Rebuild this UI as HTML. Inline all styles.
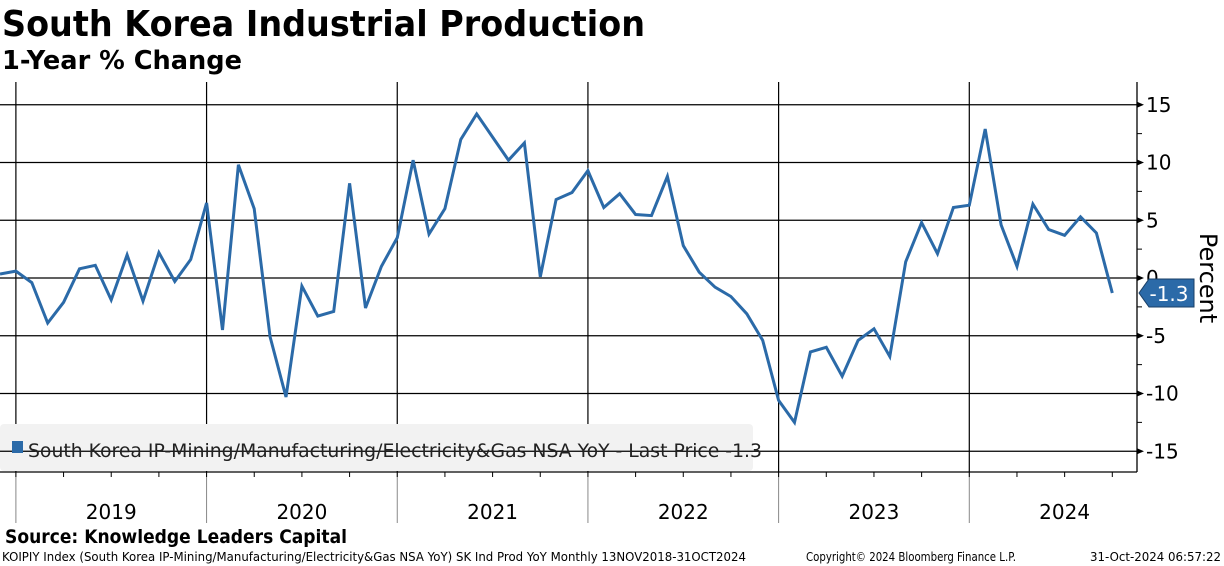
<!DOCTYPE html>
<html><head><meta charset="utf-8"><style>
html,body{margin:0;padding:0;background:#fff;}
svg{display:block;font-family:"DejaVu Sans","Liberation Sans",sans-serif;}
</style></head><body>
<svg id="chart" width="1224" height="566" viewBox="0 0 1224 566" xmlns="http://www.w3.org/2000/svg">
<text x="2" y="36" font-size="36" font-weight="bold" textLength="643" lengthAdjust="spacingAndGlyphs">South Korea Industrial Production</text>
<text x="2" y="69" font-size="26" font-weight="bold" textLength="240" lengthAdjust="spacingAndGlyphs">1-Year % Change</text>
<g id="grid"></g>
<rect x="0" y="424" width="753" height="47" rx="4" fill="#f2f2f2"/>
<g id="grid2"></g>
<g id="series"></g>
<rect x="12" y="441" width="11" height="12" fill="#2b6aa8"/>
<text x="28" y="457" font-size="19" fill="#222" textLength="734" lengthAdjust="spacingAndGlyphs">South Korea IP-Mining/Manufacturing/Electricity&amp;Gas NSA YoY - Last Price -1.3</text>
<g id="axes"></g>
<text transform="translate(1200,278) rotate(90)" text-anchor="middle" font-size="24">Percent</text>
<text x="5" y="543" font-size="19" font-weight="bold" textLength="342" lengthAdjust="spacingAndGlyphs">Source: Knowledge Leaders Capital</text>
<text x="2" y="561" font-size="12" textLength="744" lengthAdjust="spacingAndGlyphs">KOIPIY Index (South Korea IP-Mining/Manufacturing/Electricity&amp;Gas NSA YoY) SK Ind Prod YoY  Monthly 13NOV2018-31OCT2024</text>
<text x="806" y="561" font-size="12" textLength="210" lengthAdjust="spacingAndGlyphs">Copyright© 2024 Bloomberg Finance L.P.</text>
<text x="1090" y="561" font-size="12" textLength="131" lengthAdjust="spacingAndGlyphs">31-Oct-2024 06:57:22</text>
</svg>
<script>
const years = ["2019","2020","2021","2022","2023","2024"];
const yTicks = [15,10,5,0,-5,-10,-15];
const values = [0.35,
0.6,-0.4,-3.9,-2.1,0.8,1.1,-1.9,2.0,-2.0,2.2,-0.3,1.6,
6.5,-4.5,9.8,6.0,-5.1,-10.3,-0.7,-3.3,-2.9,8.2,-2.6,1.0,
3.5,10.2,3.8,6.0,12.0,14.2,12.2,10.2,11.7,0.1,6.8,7.4,
9.3,6.1,7.3,5.5,5.4,8.8,2.8,0.5,-0.8,-1.6,-3.1,-5.4,
-10.6,-12.5,-6.4,-6.0,-8.5,-5.4,-4.4,-6.8,1.4,4.8,2.1,6.1,
6.3,12.9,4.6,1.0,6.4,4.2,3.7,5.3,3.9,-1.3];
const lastValue = -1.3;

const NS="http://www.w3.org/2000/svg";
const x0=0, dx=15.89, axisX=1137, plotTop=82, plotBot=472;
function xs(i){return x0+i*dx;}         // i = months since Dec 2018
function ys(v){return 278-v*11.55;}
function mk(tag,attrs,parent){const e=document.createElementNS(NS,tag);for(const k in attrs)e.setAttribute(k,attrs[k]);parent.appendChild(e);return e;}
const grid=document.getElementById('grid'), grid2=document.getElementById('grid2'), axes=document.getElementById('axes'), series=document.getElementById('series');

yTicks.forEach(v=>{
  const l=mk('line',{x1:0,x2:axisX,y1:ys(v),y2:ys(v),stroke:'#000','stroke-width':1.3},grid2);
  
  
  const a=mk('path',{d:`M${axisX} ${ys(v)-3}L${axisX+7} ${ys(v)}L${axisX} ${ys(v)+3}Z`,fill:'#000'},axes);
  
  
  const t=mk('text',{x:axisX+9,y:ys(v)+7,'font-size':20},axes);
  t.textContent=String(v).replace('-','-');
  
  
});
for(let v=12.5;v>-15;v-=5){
  const m=mk('line',{x1:axisX,x2:axisX+5,y1:ys(v),y2:ys(v),stroke:'#000','stroke-width':1},axes);
  
  
}
years.forEach((y,k)=>{
  const xi=xs(1+12*k);
  const l=mk('line',{x1:xi,x2:xi,y1:plotTop,y2:plotBot,stroke:'#000','stroke-width':1.2},grid);
  
  
  const l2=mk('line',{x1:xi,x2:xi,y1:plotBot,y2:523,stroke:'#888','stroke-width':1},axes);
  
  
  const t=mk('text',{x:xi+6*dx,y:519,'font-size':20,'text-anchor':'middle'},axes);
  t.textContent=y;
  
  
});
for(let i=1;i<values.length;i+=3){
  const m=mk('line',{x1:xs(i),x2:xs(i),y1:plotBot,y2:plotBot+5,stroke:'#000','stroke-width':1},axes);
  
  
}
const ax=mk('line',{x1:axisX,x2:axisX,y1:plotTop,y2:plotBot,stroke:'#000','stroke-width':1.3},axes);


const bx=mk('line',{x1:0,x2:axisX,y1:plotBot,y2:plotBot,stroke:'#000','stroke-width':1.3},axes);



const pts=values.map((v,i)=>xs(i).toFixed(1)+','+ys(v).toFixed(1)).join(' ');
const pl=mk('polyline',{points:pts,fill:'none',stroke:'#2b6aa8','stroke-width':3,'stroke-linejoin':'miter'},series);



const ly=ys(lastValue);
const tag=mk('path',{d:`M${axisX+2} ${ly}L${axisX+12} ${ly-14}L1194 ${ly-14}L1194 ${ly+14}L${axisX+12} ${ly+14}Z`,fill:'#2b6aa8',stroke:'#1a3f66','stroke-width':1},axes);


const tt=mk('text',{x:1169,y:ly+8,'font-size':20,fill:'#fff','text-anchor':'middle'},axes);
tt.textContent=String(lastValue);


</script>
</body></html>
